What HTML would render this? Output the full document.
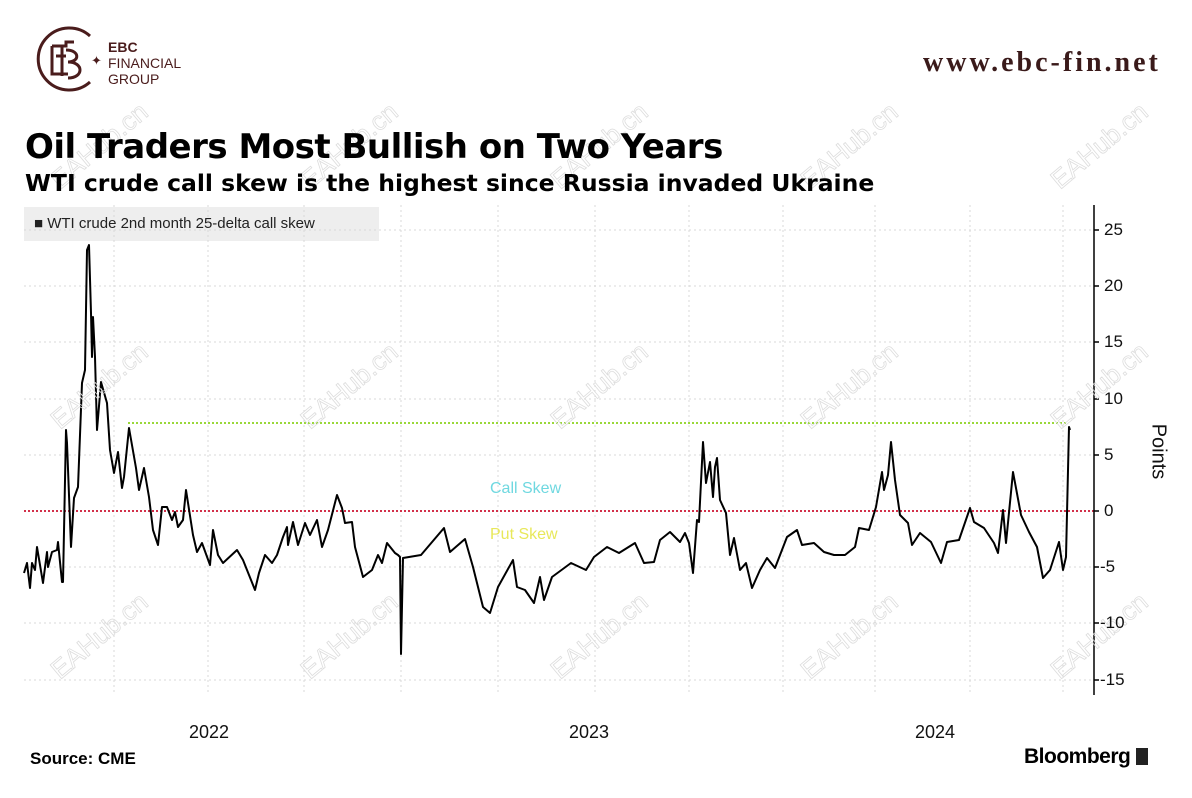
<!DOCTYPE html><html><head><style>
body{margin:0;background:#fff;width:1192px;height:798px;overflow:hidden;position:relative;font-family:"Liberation Sans","DejaVu Sans",sans-serif}
.a{position:absolute;white-space:nowrap}
</style></head><body>
<svg width="1192" height="798" style="position:absolute;left:0;top:0">
<g fill="none" stroke="#4a1c1c" stroke-width="3">
<path d="M90 36 A31 31 0 1 0 90 82"/>
<path d="M52 46 h14 v-4 h8 M52 46 v28 h16 M56 56 h10 M62 46 v30 M66 50 c14 0 14 12 2 12 c16 0 16 16 0 16"/>
</g>
<text x="91" y="65" font-size="13" fill="#4a1c1c">✦</text>
<rect x="24" y="207" width="355" height="34" fill="#eeeeee"/>
<g stroke="#d8d8d8" stroke-dasharray="2,3" stroke-width="1">
<line x1="24" y1="230" x2="1094" y2="230"/><line x1="24" y1="286" x2="1094" y2="286"/><line x1="24" y1="342" x2="1094" y2="342"/><line x1="24" y1="399" x2="1094" y2="399"/><line x1="24" y1="455" x2="1094" y2="455"/><line x1="24" y1="567" x2="1094" y2="567"/><line x1="24" y1="623" x2="1094" y2="623"/><line x1="24" y1="680" x2="1094" y2="680"/>
<line x1="114" y1="205" x2="114" y2="695"/><line x1="208" y1="205" x2="208" y2="695"/><line x1="304" y1="205" x2="304" y2="695"/><line x1="401" y1="205" x2="401" y2="695"/><line x1="498" y1="205" x2="498" y2="695"/><line x1="595" y1="205" x2="595" y2="695"/><line x1="689" y1="205" x2="689" y2="695"/><line x1="783" y1="205" x2="783" y2="695"/><line x1="875" y1="205" x2="875" y2="695"/><line x1="970" y1="205" x2="970" y2="695"/><line x1="1063" y1="205" x2="1063" y2="695"/>
</g>
<line x1="24" y1="511" x2="1094" y2="511" stroke="#d2304a" stroke-width="2" stroke-dasharray="2,2"/>
<line x1="128" y1="423" x2="1068" y2="423" stroke="#9ad83a" stroke-width="2" stroke-dasharray="2,2"/>
<line x1="1094" y1="205" x2="1094" y2="695" stroke="#000" stroke-width="1.5"/>
<g stroke="#000" stroke-width="1.5"><line x1="1094" y1="230" x2="1099" y2="230"/><line x1="1094" y1="286" x2="1099" y2="286"/><line x1="1094" y1="342" x2="1099" y2="342"/><line x1="1094" y1="399" x2="1099" y2="399"/><line x1="1094" y1="455" x2="1099" y2="455"/><line x1="1094" y1="511" x2="1099" y2="511"/><line x1="1094" y1="567" x2="1099" y2="567"/><line x1="1094" y1="623" x2="1099" y2="623"/><line x1="1094" y1="680" x2="1099" y2="680"/></g>
<polyline fill="none" stroke="#000" stroke-width="2" stroke-linejoin="round" points="24,573 27,563 30,588 32,563 35,570 37,547 43,583 47,552 48,567 52,552 57,550 58,542 62,582 63,582 66,430 67,443 71,547 74,498 78,487 82,383 85,370 87,250 89,245 91,313 92,357 93,317 95,357 97,430 101,382 107,403 110,450 114,473 118,452 122,488 124,477 129,428 136,468 139,490 144,468 149,497 153,530 158,545 162,507 167,507 172,520 175,512 178,527 183,520 186,490 193,535 197,552 202,543 210,565 213,530 218,555 223,563 237,550 243,560 255,590 259,573 265,555 272,563 277,555 283,537 287,527 288,545 293,522 298,545 305,523 310,535 317,520 322,547 328,530 337,495 342,508 345,523 352,522 355,547 363,577 372,570 378,555 382,563 387,543 395,553 398,555 400,557 401,654 403,558 421,555 444,528 450,552 465,539 473,567 483,607 490,613 498,587 513,560 517,587 525,590 534,603 540,577 544,600 552,577 571,563 586,570 594,557 607,547 619,553 635,543 644,563 654,562 660,540 670,532 680,542 685,533 689,543 693,573 697,520 699,522 703,442 706,483 710,462 713,497 715,467 717,458 720,500 726,513 730,555 734,538 740,570 746,563 752,588 760,570 767,558 775,568 787,537 797,530 802,545 814,543 824,552 834,555 845,555 855,547 859,528 869,530 876,507 882,472 884,490 888,475 891,442 895,480 900,515 908,523 912,545 920,533 931,542 941,563 947,542 959,540 970,508 974,522 984,528 994,543 998,553 1003,510 1006,543 1013,472 1021,515 1029,532 1037,547 1043,578 1050,570 1059,542 1063,570 1066,557 1069,427 1070,430"/>
<g font-size="26" fill="none" stroke="#ddd" stroke-width="0.8" font-family="Liberation Sans,sans-serif">
<text transform="translate(60,190) rotate(-40)">EAHub.cn</text><text transform="translate(310,190) rotate(-40)">EAHub.cn</text><text transform="translate(560,190) rotate(-40)">EAHub.cn</text><text transform="translate(810,190) rotate(-40)">EAHub.cn</text><text transform="translate(1060,190) rotate(-40)">EAHub.cn</text>
<text transform="translate(60,430) rotate(-40)">EAHub.cn</text><text transform="translate(310,430) rotate(-40)">EAHub.cn</text><text transform="translate(560,430) rotate(-40)">EAHub.cn</text><text transform="translate(810,430) rotate(-40)">EAHub.cn</text><text transform="translate(1060,430) rotate(-40)">EAHub.cn</text>
<text transform="translate(60,680) rotate(-40)">EAHub.cn</text><text transform="translate(310,680) rotate(-40)">EAHub.cn</text><text transform="translate(560,680) rotate(-40)">EAHub.cn</text><text transform="translate(810,680) rotate(-40)">EAHub.cn</text><text transform="translate(1060,680) rotate(-40)">EAHub.cn</text>
</g>
</svg>
<div class="a" style="left:108px;top:39px;font-size:14px;line-height:16px;color:#4a1c1c"><b>EBC</b><br>FINANCIAL<br>GROUP</div>
<div class="a" style="left:923px;top:47px;font-family:'Liberation Serif',serif;font-weight:bold;font-size:28px;color:#3a1a1a;letter-spacing:3px">www.ebc-fin.net</div>
<div class="a" style="left:25px;top:127px;font-size:34px;font-weight:bold;color:#000;font-family:'DejaVu Sans',sans-serif;letter-spacing:-0.5px">Oil Traders Most Bullish on Two Years</div>
<div class="a" style="left:25px;top:169px;font-size:23.5px;font-weight:bold;color:#000;font-family:'DejaVu Sans',sans-serif">WTI crude call skew is the highest since Russia invaded Ukraine</div>
<div class="a" style="left:34px;top:215px;font-size:15px;color:#222">■ WTI crude 2nd month 25-delta call skew</div>
<div class="a" style="left:490px;top:480px;font-size:16px;color:#6fd8e0">Call Skew</div>
<div class="a" style="left:490px;top:526px;font-size:16px;color:#e8e85a">Put Skew</div>
<div class="a" style="left:1104px;top:220px;font-size:17px;color:#111;line-height:20px">25</div>
<div class="a" style="left:1104px;top:276px;font-size:17px;color:#111">20</div>
<div class="a" style="left:1104px;top:332px;font-size:17px;color:#111">15</div>
<div class="a" style="left:1104px;top:389px;font-size:17px;color:#111">10</div>
<div class="a" style="left:1104px;top:445px;font-size:17px;color:#111">5</div>
<div class="a" style="left:1104px;top:501px;font-size:17px;color:#111">0</div>
<div class="a" style="left:1100px;top:557px;font-size:17px;color:#111">-5</div>
<div class="a" style="left:1100px;top:613px;font-size:17px;color:#111">-10</div>
<div class="a" style="left:1100px;top:670px;font-size:17px;color:#111">-15</div>
<div class="a" style="left:1130px;top:440px;font-size:20px;color:#111;transform:rotate(90deg)">Points</div>
<div class="a" style="left:189px;top:722px;font-size:18px;color:#111">2022</div>
<div class="a" style="left:569px;top:722px;font-size:18px;color:#111">2023</div>
<div class="a" style="left:915px;top:722px;font-size:18px;color:#111">2024</div>
<div class="a" style="left:30px;top:749px;font-size:17px;font-weight:bold;color:#000">Source: CME</div>
<div class="a" style="left:1024px;top:745px;font-size:21px;font-weight:bold;color:#000;letter-spacing:-0.5px">Bloomberg <span style="display:inline-block;width:12px;height:17px;background:#222;vertical-align:-2px"></span></div>
</body></html>
